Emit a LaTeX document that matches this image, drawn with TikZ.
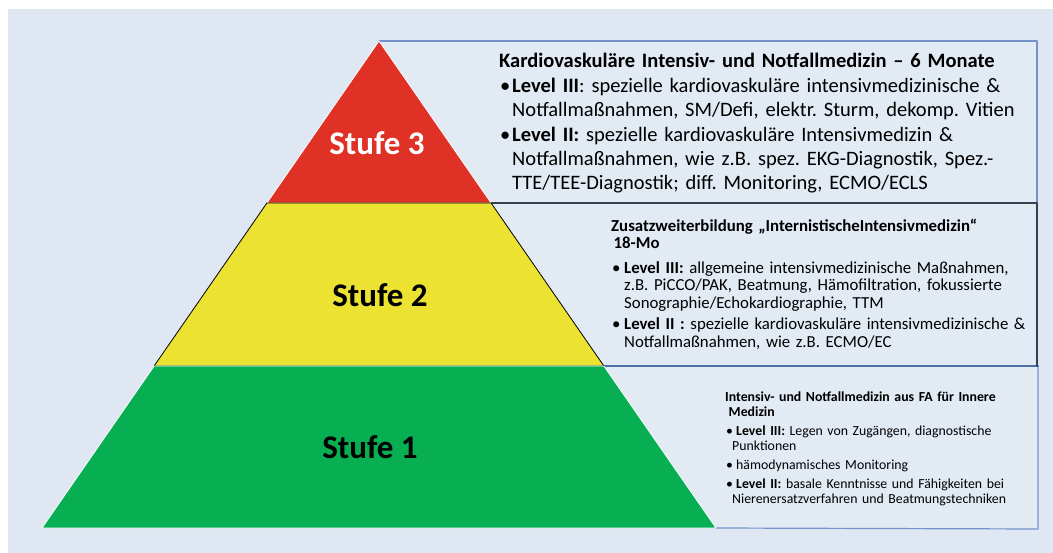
\documentclass[tikz,border=0pt]{standalone}
\usepackage{fontspec}
\setmainfont{Carlito}
\definecolor{hgblau}{HTML}{DFE8F2}
\definecolor{boxblau}{HTML}{E2EAF4}
\definecolor{stufrot}{HTML}{E03127}
\definecolor{stufgelb}{HTML}{EBE232}
\definecolor{stufgruen}{HTML}{07AF52}
\definecolor{randblau}{HTML}{7593CB}
\definecolor{randblaudunkel}{HTML}{4F6EA6}
\definecolor{randdunkel}{HTML}{343F4F}
\newcommand{\itm}[3]{\par\hangindent=#1\hangafter=1\noindent\makebox[#1][l]{\hspace{#2}\textbullet}\hspace{#3}}
\begin{document}
\begin{tikzpicture}[x=1pt, y=-1pt, line join=round, line cap=round]
		\def\ax{379}
		\def\ay{41}
		\def\ya{203}
		\def\yb{366}
		\def\yc{528}
		\def\rx{1037}
		\pgfmathsetmacro{\k}{337/487}
		\useasboundingbox (0,0) rectangle (1053,553);
		\fill[hgblau] (8,9) rectangle (1053,553);
		\path (\ax,\ay) coordinate (S)
		({\ax+\k*(\ya-\ay)},\ya) coordinate (R2)
		({\ax-\k*(\ya-\ay)},\ya) coordinate (L2)
		({\ax+\k*(\yb-\ay)},\yb) coordinate (R1)
		({\ax-\k*(\yb-\ay)},\yb) coordinate (L1)
		({\ax+\k*(\yc-\ay)},\yc) coordinate (RB)
		({\ax-\k*(\yc-\ay)},\yc) coordinate (LB)
		(\rx,\ay) coordinate (E3)
		(\rx,\ya) coordinate (E2)
		(\rx+1,\yb) coordinate (E1)
		(\rx+1,\yc+1) coordinate (E0)
		;
		\fill[boxblau] (S) -- (E3) -- (E2) -- (\rx,\yb) -- (E1) -- (E0) -- (RB) -- cycle;
		\draw[randblau, line width=1.2] (S) -- (E3) -- (E2);
		\draw[randblau, line width=1.2] (E1) -- (E0) -- (RB);
		\draw[randblaudunkel, line width=1.5] (R1) -- (E1);
		\draw[randdunkel, line width=1.5] (R2) -- (E2) -- (\rx,\yb);
		\filldraw[fill=stufrot, draw=white, line width=.8] (S) -- (R2) -- (L2) -- cycle;
		\filldraw[fill=stufgelb, draw=black, line width=.8] (L2) -- (R2) -- (R1) -- (L1) -- cycle;
		\filldraw[fill=stufgruen, draw=white, line width=.8] (L1) -- (R1) -- (RB) -- (LB) -- cycle;
		\node[font=\bfseries\fontsize{33}{38}\selectfont, text=white] (stufe3) at (377,143) {Stufe 3};
		\node[font=\bfseries\fontsize{33}{38}\selectfont] (stufe2) at (380,295) {Stufe 2};
		\node[font=\bfseries\fontsize{33}{38}\selectfont] (stufe1) at (370,447) {Stufe 1};
		\node[anchor=north west, inner sep=0, text width=560, align=left, font=\fontsize{20.5}{24}\selectfont] (text3) at (499,53) {\frenchspacing\setlength{\parskip}{1pt}%
			\textbf{Kardiovaskuläre Intensiv- und Notfallmedizin – 6 Monate}
			\itm{13pt}{1pt}{0pt}\textbf{Level III}: spezielle kardiovaskuläre intensivmedizinische \&\newline
			Notfallmaßnahmen, SM/Defi, elektr. Sturm, dekomp. Vitien
			\itm{13pt}{1pt}{0pt}\textbf{Level II:} spezielle kardiovaskuläre Intensivmedizin \&\newline
			Notfallmaßnahmen, wie z.B. spez. EKG-Diagnostik, Spez.-\newline
			TTE/TEE-Diagnostik; diff. Monitoring, ECMO/ECLS\par};
		\node[anchor=north west, inner sep=0, text width=440, align=left, font=\fontsize{16.8}{17.5}\selectfont] (text2) at (611,218.5) {\frenchspacing\setlength{\parskip}{4pt}%
			\textbf{Zusatzweiterbildung „InternistischeIntensivmedizin“}\newline
			\hspace*{2.5pt}\textbf{18-Mo}\vspace{3pt}
			\itm{13pt}{1pt}{0pt}\textbf{Level III:} allgemeine intensivmedizinische Maßnahmen,\newline
			z.B. PiCCO/PAK, Beatmung, Hämofiltration, fokussierte\newline
			Sonographie/Echokardiographie, TTM
			\itm{13pt}{1pt}{0pt}\textbf{Level II :} spezielle kardiovaskuläre intensivmedizinische \&\newline
			Notfallmaßnahmen, wie z.B. ECMO/EC\par};
		\node[anchor=north west, inner sep=0, text width=320, align=left, font=\fontsize{13.8}{15}\selectfont] (text1) at (725,391.5) {\frenchspacing\setlength{\parskip}{4pt}%
			\textbf{Intensiv- und Notfallmedizin aus FA für Innere}\newline
			\hspace*{3.5pt}\textbf{Medizin}
			\itm{7pt}{1pt}{4pt}\textbf{Level III:} Legen von Zugängen, diagnostische\newline
			Punktionen
			\itm{7pt}{1pt}{4pt}hämodynamisches Monitoring
			\itm{7pt}{1pt}{4pt}\textbf{Level II:} basale Kenntnisse und Fähigkeiten bei\newline
			Nierenersatzverfahren und Beatmungstechniken\par};
\end{tikzpicture}
\end{document}
